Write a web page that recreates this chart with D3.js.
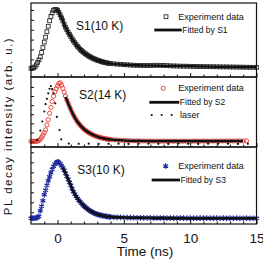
<!DOCTYPE html>
<html>
<head>
<meta charset="utf-8">
<script src="https://cdn.jsdelivr.net/npm/d3@7"></script>
<style>
body { margin: 0; background: #fff; }
text { font-family: Arial, "Liberation Sans", Helvetica, sans-serif; fill: #111; }
</style>
</head>
<body>
<div id="chart"></div>
<script>
// sampling grid of the measured decays (ns)
const tDense = d3.range(-2, 4.05, 0.1)
const tTail = d3.range(4.25, 15.1, 0.25)
const tAll = tDense.concat(tTail)

// S1 (10 K) experiment data
const s1Dense = [0.10,0.12,0.15,0.25,0.45,0.70,0.95,1.25,1.70,2.20,
  2.75,3.25,3.80,4.35,4.90,5.35,5.70,5.95,6.05,6.05,
  5.95,5.75,5.50,5.20,4.90,4.55,4.25,4.00,3.75,3.52,
  3.30,3.08,2.88,2.68,2.50,2.33,2.17,2.02,1.90,1.78,
  1.67,1.57,1.47,1.38,1.30,1.22,1.15,1.09,1.03,0.98,
  0.92,0.88,0.83,0.79,0.75,0.71,0.68,0.65,0.62,0.60,
  0.58]
const s1Tail = [0.55,0.52,0.50,0.47,0.45,0.43,0.41,0.40,0.39,0.38,0.38,0.39,
  0.40,0.41,0.40,0.39,0.37,0.35,0.34,0.33,0.32,0.31,0.31,0.30,
  0.29,0.28,0.28,0.27,0.27,0.26,0.26,0.25,0.25,0.24,0.24,0.23,
  0.23,0.22,0.22,0.21,0.21,0.20,0.20,0.20]

// S2 (14 K) experiment data
const s2Dense = [0.02,0.00,0.03,0.01,0.03,0.06,0.12,0.25,0.45,0.70,
  0.98,1.28,1.82,2.40,3.10,3.75,4.40,4.98,5.45,5.80,
  6.10,6.38,6.45,6.20,5.85,5.42,5.00,4.56,4.20,3.85,
  3.52,3.20,2.91,2.64,2.40,2.17,1.97,1.80,1.63,1.49,
  1.36,1.24,1.13,1.03,0.94,0.86,0.78,0.71,0.65,0.59,
  0.54,0.49,0.45,0.41,0.37,0.34,0.31,0.28,0.26,0.24,
  0.22]
const s2Tail = [0.19,0.16,0.14,0.12,0.10,0.09,0.08,0.07,0.06,0.06,0.05,0.05,
  0.04,0.05,0.04,0.04,0.03,0.04,0.03,0.04,0.03,0.03,0.04,0.03,
  0.04,0.05,0.04,0.05,0.04,0.05,0.06,0.05,0.06,0.07,0.06,0.07,
  0.06,0.07,0.08,0.07,0.08,null,null,null]

// S3 (10 K) experiment data
const s3Dense = [0.00,0.02,0.00,0.03,0.05,0.10,0.20,0.75,1.20,1.75,
  2.35,2.80,3.30,3.75,4.15,4.55,4.90,5.20,5.42,5.58,
  5.65,5.62,5.45,5.25,5.05,4.80,4.50,4.20,3.90,3.60,
  3.30,2.95,2.66,2.42,2.20,2.00,1.82,1.66,1.50,1.36,
  1.23,1.11,1.00,0.88,0.79,0.71,0.63,0.56,0.50,0.45,
  0.40,0.36,0.32,0.29,0.26,0.23,0.21,0.19,0.17,0.15,
  0.14]
const s3Tail = [0.12,0.10,0.09,0.08,0.07,0.06,0.06,0.05,0.05,0.04,0.04,0.04,
  0.03,0.03,0.03,0.03,0.02,0.03,0.02,0.02,0.03,0.02,0.02,0.01,
  0.02,0.01,0.02,0.01,0.01,0.02,0.01,0.01,0.00,0.01,0.00,0.01,
  0.00,0.01,0.00,0.00,0.01,0.00,0.00,0.00]

// fitted curves
const fit1T = [-0.1,0.0,0.2,0.4,0.6,0.8,1.0,1.3,1.6,2.0,2.5,3.0,3.5,4.0,5.0,6.0,7.0,8.0,10.0,12.0,15.0]
const fit1V = [6.05,5.95,5.50,4.90,4.25,3.75,3.30,2.68,2.17,1.67,1.22,0.92,0.71,0.58,0.47,0.40,0.38,0.36,0.30,0.25,0.20]
const fit2T = [0.6,0.7,0.9,1.2,1.5,2.0,2.5,3.0,3.5,4.0,5.0,6.0,7.0,8.0,10.0,12.0,14.0]
const fit2V = [4.90,4.56,3.85,2.91,2.17,1.36,0.86,0.54,0.34,0.22,0.12,0.07,0.05,0.04,0.04,0.05,0.06]
const fit3T = [0.4,0.6,0.8,1.0,1.2,1.5,2.0,2.5,3.0,3.5,4.0,5.0,6.0,8.0,10.0,12.0,15.0]
const fit3V = [5.05,4.50,3.90,3.30,2.66,2.00,1.23,0.71,0.40,0.23,0.14,0.08,0.05,0.03,0.01,0.01,0.00]

// laser pulse (shown in S2 panel)
const laserT = [-1.55,-1.3,-1.15,-1.0,-0.9,-0.8,-0.7,-0.6,-0.5,-0.4,-0.3,-0.17,-0.05,0.15,0.28,
  0.85,1.6,2.35,3.1,3.85,4.6,5.35,6.1,6.85,7.6,8.35,9.1,9.85,10.6,11.35,12.1,12.85,13.6,14.35]
const laserV = [0.15,1.2,2.2,3.3,4.1,4.7,5.3,5.8,6.1,5.75,5.3,4.2,2.7,1.26,0.24,
  -0.22,-0.25,-0.24,-0.26,-0.25,-0.24,-0.26,-0.25,-0.24,-0.25,-0.26,-0.24,-0.25,-0.26,-0.24,-0.25,-0.24,-0.26,-0.25]

const xTicksMajor = [0, 5, 10, 15]
const xTicksMinor = [-1,1,2,3,4,6,7,8,9,11,12,13,14]

const width = 263, height = 260
const svg = d3.select("#chart").append("svg")
  .attr("width", width)
  .attr("height", height)

const x = d3.scaleLinear().domain([-2, 15]).range([31, 256.5])

const panels = [
  {title: "S1(10 K)", top: 3, bottom: 77, dom: [-0.78, 6.70], ticks: [0,1,2,3,4,5,6],
   vals: s1Dense.concat(s1Tail), fitT: fit1T, fitV: fit1V, fitLabel: "Fitted by S1", mark: "square"},
  {title: "S2(14 K)", top: 77, bottom: 147, dom: [-0.6, 7.09], ticks: [0,1,2,3,4,5,6],
   vals: s2Dense.concat(s2Tail), fitT: fit2T, fitV: fit2V, fitLabel: "Fitted by S2", mark: "circle"},
  {title: "S3(10 K)", top: 147, bottom: 224, dom: [-0.57, 7.13], ticks: [0.6,1.6,2.6,3.6,4.6,5.6,6.6],
   vals: s3Dense.concat(s3Tail), fitT: fit3T, fitV: fit3V, fitLabel: "Fitted by S3", mark: "star"}
]

const red = "#e5372b", blue = "#1d2c9e", gray = "#2b2b2b"
const starPath = d3.symbol().type(d3.symbolAsterisk || d3.symbolStar).size(22)()

function drawMark(g, type, cx, cy) {
  if (type == "square") {
    g.append("rect").attr("x", cx - 1.9).attr("y", cy - 1.9)
      .attr("width", 3.8).attr("height", 3.8)
      .attr("fill", "none").attr("stroke", gray).attr("stroke-width", 0.9)
  } else if (type == "circle") {
    g.append("circle").attr("cx", cx).attr("cy", cy).attr("r", 2.1)
      .attr("fill", "none").attr("stroke", red).attr("stroke-width", 0.9)
  } else {
    g.append("path").attr("d", starPath)
      .attr("transform", "translate(" + cx + "," + cy + ")")
      .attr("fill", blue).attr("stroke", blue).attr("stroke-width", 1.2)
  }
}

panels.forEach(function(p, i) {
  const y = d3.scaleLinear().domain(p.dom).range([p.bottom, p.top])
  const g = svg.append("g")

  // experiment points
  const pts = g.append("g")
  tAll.forEach(function(t, k) {
    if (p.vals[k] == null) return
    drawMark(pts, p.mark, x(t), y(p.vals[k]))
  })

  // fitted line
  const fitData = p.fitT.map((t, k) => [t, p.fitV[k]])
  g.append("path")
    .datum(fitData)
    .attr("fill", "none")
    .attr("stroke", "#111")
    .attr("stroke-width", 2.6)
    .attr("d", d3.line().x(d => x(d[0])).y(d => y(d[1])).curve(d3.curveMonotoneX))

  // laser on S2
  if (i == 1) {
    g.append("g").selectAll("circle")
      .data(laserT)
      .join("circle")
      .attr("cx", d => x(d))
      .attr("cy", (d, k) => y(laserV[k]))
      .attr("r", 1.1)
      .attr("fill", "#111")
  }

  // frame
  g.append("rect")
    .attr("x", x(-2)).attr("y", p.top)
    .attr("width", x(15) - x(-2)).attr("height", p.bottom - p.top)
    .attr("fill", "none").attr("stroke", "#111").attr("stroke-width", 1.2)

  // inward ticks
  g.append("g")
    .attr("transform", "translate(0," + p.bottom + ")")
    .call(d3.axisBottom(x).tickValues(xTicksMinor).tickSize(-2.5).tickFormat(""))
    .call(a => a.select(".domain").remove())
  const major = g.append("g")
    .attr("transform", "translate(0," + p.bottom + ")")
    .call(d3.axisBottom(x).tickValues(xTicksMajor).tickSize(-4).tickPadding(9)
      .tickFormat(i == 2 ? d3.format("d") : ""))
    .call(a => a.select(".domain").remove())
  major.selectAll("text").attr("font-size", "13.5px").attr("fill", "#111")
    .style("font-family", "Arial, 'Liberation Sans', sans-serif")
  g.append("g")
    .attr("transform", "translate(" + x(-2) + ",0)")
    .call(d3.axisLeft(y).tickValues(p.ticks).tickSize(-3).tickFormat(""))
    .call(a => a.select(".domain").remove())
  g.selectAll(".tick line").attr("stroke", "#111").attr("stroke-width", 1)

  // panel title
  g.append("text")
    .attr("x", [76, 79, 77.3][i])
    .attr("y", [25.7, 95, 170][i])
    .attr("dy", "0.35em")
    .attr("font-size", "12px")
    .text(p.title)

  // legend
  const ly = [16.7, 88.3, 166][i]
  drawMark(g, p.mark, [166, 163.3, 165.7][i], ly)
  g.append("text").attr("x", 178.3).attr("y", ly).attr("dy", "0.35em")
    .attr("font-size", "9px").attr("fill", "#333")
    .text("Experiment data")
  const fy = [30, 102.3, 180][i]
  const fx0 = [154.3, 149.3, 151.7][i], fx1 = [181.7, 179.3, 180][i]
  g.append("line").attr("x1", fx0).attr("x2", fx1).attr("y1", fy).attr("y2", fy)
    .attr("stroke", "#111").attr("stroke-width", 2.8)
  g.append("text").attr("x", fx1 + 0.5).attr("y", fy).attr("dy", "0.35em")
    .attr("font-size", "8.5px").attr("fill", "#333")
    .text(p.fitLabel)
  if (i == 1) {
    g.append("g").selectAll("circle")
      .data([151.7, 161.7, 171.7])
      .join("circle")
      .attr("cx", d => d).attr("cy", 115).attr("r", 1.1).attr("fill", "#111")
    g.append("text").attr("x", 180).attr("y", 115).attr("dy", "0.35em")
      .attr("font-size", "9px").attr("fill", "#333")
      .text("laser")
  }
})

// axis titles
svg.append("text")
  .attr("x", 145)
  .attr("y", 251.7)
  .attr("dy", "0.35em")
  .attr("text-anchor", "middle")
  .attr("font-size", "13.5px")
  .text("Time (ns)")

svg.append("text")
  .attr("transform", "translate(11.5,126) rotate(-90)")
  .attr("text-anchor", "middle")
  .attr("font-size", "11.5px")
  .attr("letter-spacing", "1.5px")
  .text("PL decay intensity (arb. u.)")
</script>
</body>
</html>
